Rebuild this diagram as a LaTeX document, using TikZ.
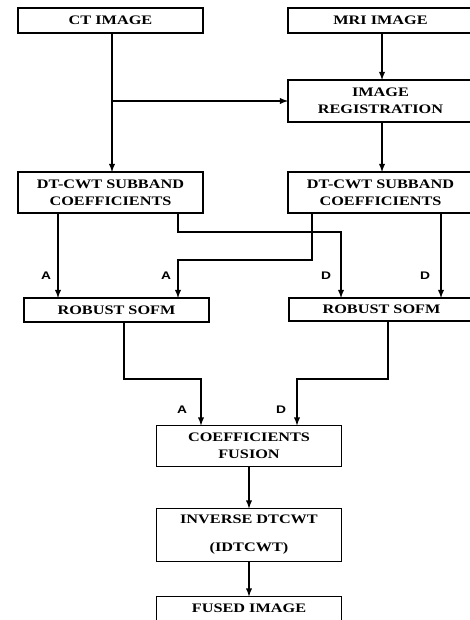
\documentclass[tikz,border=0pt]{standalone}
\usepackage{fontspec}
\setmainfont{Liberation Serif}[FakeStretch=1.25]
\newfontfamily\lblfont{Liberation Sans}[FakeStretch=1.25]
\usetikzlibrary{positioning, calc}

\begin{document}
\begin{tikzpicture}[line width=1.8pt,
    box/.style={draw, line width=1.3pt, outer sep=0pt, minimum width=185pt, align=center, inner sep=2pt, font=\fontsize{13}{17}\selectfont\bfseries},
    lbl/.style={font=\lblfont\fontsize{11}{12}\selectfont\bfseries, inner sep=1pt}]

\useasboundingbox (0,0) rectangle (470pt,-620pt);
\clip (0,0) rectangle (470pt,-620pt);

% input boxes

\node[box, minimum height=25pt] (ct) at (110.5pt,-20.5pt) {CT IMAGE};
\node[box, minimum height=25pt, right=85pt of ct] (mri) {MRI IMAGE};
\node[box, minimum height=42pt, below=47pt of mri] (reg) {IMAGE\\REGISTRATION};
\node[box, minimum height=41pt, below=139pt of ct] (dtl) {DT-CWT SUBBAND\\COEFFICIENTS};
\node[box, minimum height=41pt, below=50pt of reg] (dtr) {DT-CWT SUBBAND\\COEFFICIENTS};

% sofm and fusion

\node[box, minimum height=24pt, below=85pt of dtl, xshift=6pt] (sofl) {ROBUST SOFM};
\node[box, minimum height=23pt, below=85pt of dtr, xshift=1pt] (sofr) {ROBUST SOFM};
\coordinate (mid) at ($(sofl.south)!.5!(sofr.south)$);
\node[box, minimum height=41pt, below=104pt of mid] (fus) {COEFFICIENTS\\FUSION};
\node[box, minimum height=53pt, below=42pt of fus] (inv) {INVERSE DTCWT\\[11pt](IDTCWT)};
\node[box, minimum height=24pt, below=35pt of inv] (fused) {FUSED IMAGE};

% arrows

\coordinate (ctout) at ([xshift=1.5pt]ct.south);
\coordinate (mriout) at ([xshift=1.5pt]mri.south);
\coordinate (regout) at (mriout |- reg.south);
\coordinate (split) at (ctout |- reg.west);
\draw[-latex] (ctout) -- (ctout |- dtl.north);
\draw[-latex] (split) -- (reg.west);
\draw[-latex] (mriout) -- (mriout |- reg.north);
\draw[-latex] (regout) -- (regout |- dtr.north);

\coordinate (dtlA) at ([xshift=40pt]dtl.south west);
\coordinate (dtlD) at ([xshift=-25pt]dtl.south east);
\coordinate (dtrA) at ([xshift=24pt]dtr.south west);
\coordinate (dtrD) at ([xshift=60.5pt]dtr.south);

\draw[-latex] (dtlA) -- (dtlA |- sofl.north) node[lbl, left=5pt, yshift=22pt] {A};
\draw[-latex] (dtlD) -- ++(0,-19pt) -| ([xshift=52pt]sofr.north west) node[lbl, left=8pt, yshift=22pt] {D};
\draw[-latex] (dtrA) -- ++(0,-47pt) -| (dtlD |- sofl.north) node[lbl, left=5pt, yshift=22pt] {A};
\draw[-latex] (dtrD) -- (dtrD |- sofr.north) node[lbl, left=9pt, yshift=22pt] {D};

\coordinate (soflout) at ([xshift=7.5pt]sofl.south);
\coordinate (sofrout) at ([xshift=6.5pt]sofr.south);
\draw[-latex] (soflout) -- ++(0,-57pt) -| ([xshift=44.5pt]fus.north west) node[lbl, left=12pt, yshift=16pt] {A};
\draw[-latex] (sofrout) -- ++(0,-58pt) -| ([xshift=-44.5pt]fus.north east) node[lbl, left=9pt, yshift=16pt] {D};

\draw[-latex] (fus) -- (inv);
\draw[-latex] (inv) -- (fused);

\end{tikzpicture}
\end{document}
